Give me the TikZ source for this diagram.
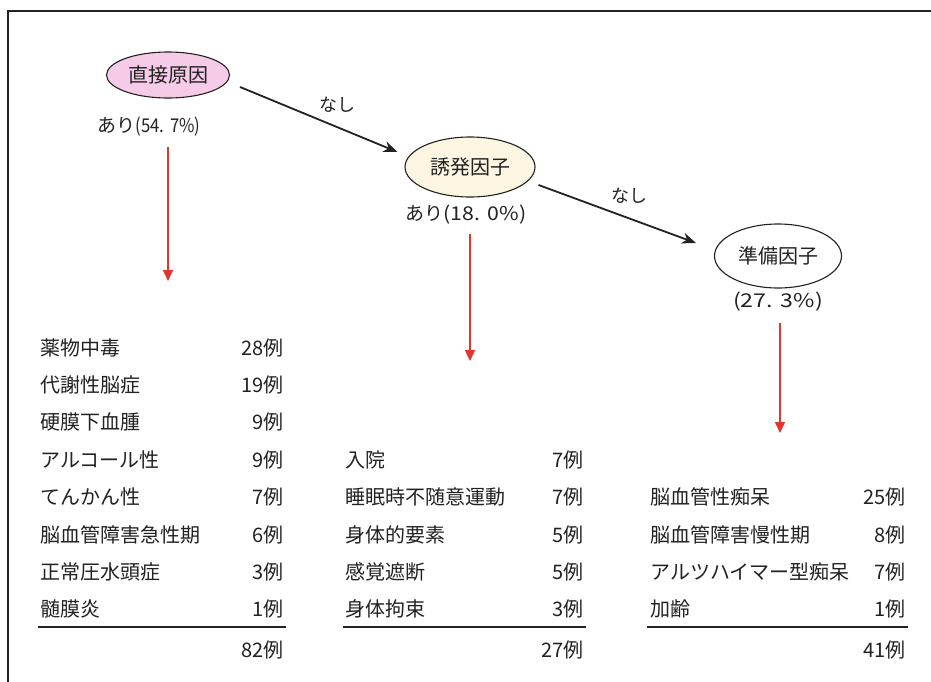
\documentclass[tikz,border=0pt]{standalone}
\usepackage{fontspec}
\setmainfont{Noto Sans CJK JP}
\usetikzlibrary{shapes.geometric,arrows.meta}
\definecolor{ink}{HTML}{222222}
\definecolor{pinkfill}{HTML}{F6CBE8}
\definecolor{creamfill}{HTML}{FBF5E2}
\definecolor{redarr}{HTML}{E4342C}
\newcommand{\hscale}[2]{\scalebox{#1}[1]{#2}}
\tikzset{
  ell/.style={ellipse,draw=ink,line width=1.1pt,inner sep=0pt,text=ink,font=\fontsize{20}{20}\selectfont},
  pct/.style={text=ink,font=\fontsize{19}{19}\selectfont,inner sep=0pt},
  lbl/.style={text=ink,font=\fontsize{18}{18}\selectfont,inner sep=0pt},
  item/.style={anchor=west,text=ink,font=\fontsize{20}{20}\selectfont,inner sep=0pt,text height=15pt,text depth=4pt},
  cnt/.style={anchor=east,text=ink,font=\fontsize{20}{20}\selectfont,inner sep=0pt,text height=15pt,text depth=4pt},
  blackarrow/.style={draw=ink,line width=1.8pt,-{Stealth[length=14pt,width=11pt]}},
  redarrow/.style={draw=redarr,line width=1.3pt,-{Triangle[length=11pt,width=10pt]}},
  rulex/.style={draw=ink,line width=1.6pt}
}
\begin{document}
\begin{tikzpicture}[x=1pt,y=-1pt]
\useasboundingbox (0,0) rectangle (931,681);
\fill[white] (0,0) rectangle (931,681);
% frame
\draw[ink,line width=1.8pt] (8,690) -- (8,11) -- (940,11);

% ellipses
\node[ell,fill=pinkfill,minimum width=123pt,minimum height=46pt] (e1) at (168,75) {直接原因};
\node[ell,fill=creamfill,minimum width=130pt,minimum height=60pt] (e2) at (470,167) {誘発因子};
\node[ell,fill=white,minimum width=127pt,minimum height=64pt] (e3) at (778,256) {準備因子};

% percentages
\node[pct] (p1) at (149,127) {あり\hscale{0.88}{(54.\,\,7\%)}};
\node[pct] (p2) at (466,215) {あり\hscale{1.12}{(18.\,\,0\%)}};
\node[pct] (p3) at (778,302) {\hscale{1.22}{(27.\,\,3\%)}};

% black arrows
\draw[blackarrow] ([xshift=10pt,yshift=-12pt]e1.east) -- ([xshift=-7pt,yshift=15pt]e2.west)
  node[lbl,pos=0.62,above=14pt] (n1) {なし};
\draw[blackarrow] ([xshift=3pt,yshift=-18pt]e2.east) -- ([xshift=-18pt,yshift=13pt]e3.west)
  node[lbl,pos=0.58,above=14pt] (n2) {なし};

% red arrows
\coordinate (r1e) at (168,281);
\coordinate (r2e) at (470,361);
\coordinate (r3e) at (780,433);
\draw[redarrow] (e1 |- 0,147) -- (r1e);
\draw[redarrow] (e2 |- 0,234) -- (r2e);
\draw[redarrow] (780,323) -- (r3e);

% list 1
\node[item] (a1) at (40,350) {薬物中毒};        \node[cnt] (b1) at (284,350) {28例};
\node[item] (a2) at (40,387) {代謝性脳症};      \node[cnt] (b2) at (284,387) {19例};
\node[item] (a3) at (40,424) {硬膜下血腫};      \node[cnt] (b3) at (284,424) {9例};
\node[item] (a4) at (40,462) {アルコール性};    \node[cnt] (b4) at (284,462) {9例};
\node[item] (a5) at (40,499) {てんかん性};      \node[cnt] (b5) at (284,499) {7例};
\node[item] (a6) at (40,537) {脳血管障害急性期}; \node[cnt] (b6) at (284,537) {6例};
\node[item] (a7) at (40,574) {正常圧水頭症};    \node[cnt] (b7) at (284,574) {3例};
\node[item] (a8) at (40,611) {髄膜炎};          \node[cnt] (b8) at (284,611) {1例};
\draw[rulex] (38,627) -- (286,627);
\node[cnt] (t1) at (284,652) {82例};

% list 2
\node[item] (c1) at (345,462) {入院};            \node[cnt] (d1) at (584,462) {7例};
\node[item] (c2) at (345,499) {睡眠時不随意運動}; \node[cnt] (d2) at (584,499) {7例};
\node[item] (c3) at (345,537) {身体的要素};      \node[cnt] (d3) at (584,537) {5例};
\node[item] (c4) at (345,574) {感覚遮断};        \node[cnt] (d4) at (584,574) {5例};
\node[item] (c5) at (345,611) {身体拘束};        \node[cnt] (d5) at (584,611) {3例};
\draw[rulex] (343,627) -- (586,627);
\node[cnt] (t2) at (584,652) {27例};

% list 3
\node[item] (f1) at (650,499) {脳血管性痴呆};        \node[cnt] (g1) at (906,499) {25例};
\node[item] (f2) at (650,537) {脳血管障害慢性期};    \node[cnt] (g2) at (906,537) {8例};
\node[item] (f3) at (650,574) {アルツハイマー型痴呆}; \node[cnt] (g3) at (906,574) {7例};
\node[item] (f4) at (650,611) {加齢};                \node[cnt] (g4) at (906,611) {1例};
\draw[rulex] (647,627) -- (908,627);
\node[cnt] (t3) at (906,652) {41例};
\end{tikzpicture}
\end{document}
